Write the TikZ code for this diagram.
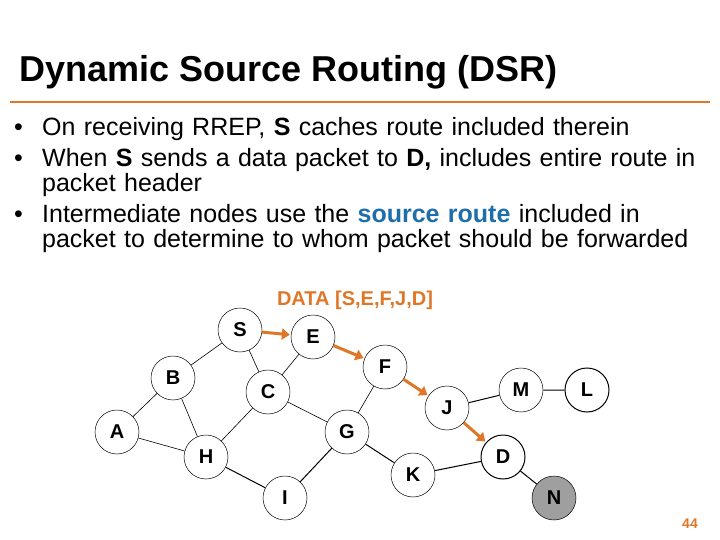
\documentclass[tikz,border=0pt]{standalone}
\usepackage{fontspec}
\usetikzlibrary{arrows.meta}
\setmainfont{Liberation Sans}
\definecolor{org}{RGB}{222,120,40}
\definecolor{blu}{RGB}{30,110,170}
\begin{document}
\begin{tikzpicture}[x=1pt,y=-1pt,
  nd/.style={circle,draw,line width=0.5pt,minimum size=44pt,inner sep=0pt,font=\fontsize{20}{20}\selectfont\bfseries},
  ed/.style={line width=0.6pt},
  ar/.style={draw=org,line width=3pt,-{Triangle[length=8pt,width=11pt]},shorten >=1pt}]
\useasboundingbox (0,0) rectangle (720,540);
\node[anchor=west,font=\fontsize{36}{36}\selectfont\bfseries] (title) at (16,72) {Dynamic Source Routing (DSR)};
\draw[org,line width=1.5pt] (10,102) -- (710,102);
\node[anchor=north west,align=left,text width=690pt,font=\fontsize{25}{25}\selectfont,inner sep=0pt] (txt) at (14,117) {%
\makebox[28pt][l]{•}On receiving RREP, \textbf{S} caches route included therein\\[6pt]
\makebox[28pt][l]{•}When \textbf{S} sends a data packet to \textbf{D,} includes entire route in\\
\hspace*{28pt}packet header\\[6pt]
\makebox[28pt][l]{•}Intermediate nodes use the \textcolor{blu}{\textbf{source route}} included in\\
\hspace*{28pt}packet to determine to whom packet should be forwarded};
\node[text=org,font=\fontsize{20}{20}\selectfont\bfseries] (lbl) at (355,300) {DATA [S,E,F,J,D]};
\node[nd] (S) at (240,330) {S};
\node[nd] (E) at (313,337) {E};
\node[nd] (F) at (385,367) {F};
\node[nd] (B) at (173,378) {B};
\node[nd] (C) at (268,392) {C};
\node[nd] (J) at (447,408) {J};
\node[nd] (M) at (521,390) {M};
\node[nd,line width=1pt] (L) at (587,390) {L};
\node[nd] (A) at (117,432) {A};
\node[nd] (G) at (347,432) {G};
\node[nd] (H) at (206,457) {H};
\node[nd] (K) at (413,475) {K};
\node[nd,line width=1pt] (D) at (503,457) {D};
\node[nd] (I) at (285,498) {I};
\node[nd,fill=gray!75] (N) at (554,498) {N};
\draw[ed] (S)--(B) (S)--(C) (E)--(C) (B)--(A) (B)--(H) (A)--(H) (C)--(H) (C)--(G) (F)--(G);
\draw[ed,line width=1pt] (G)--(I) (G)--(K) (H)--(I) (K)--(D) (J)--(M) (M)--(L) (D)--(N);
\draw[ar] (S)--(E); \draw[ar] (E)--(F); \draw[ar] (F)--(J); \draw[ar] (J)--(D);
\node[text=org,font=\fontsize{14}{14}\selectfont\bfseries] (pg) at (690,524) {44};
\end{tikzpicture}
\end{document}
